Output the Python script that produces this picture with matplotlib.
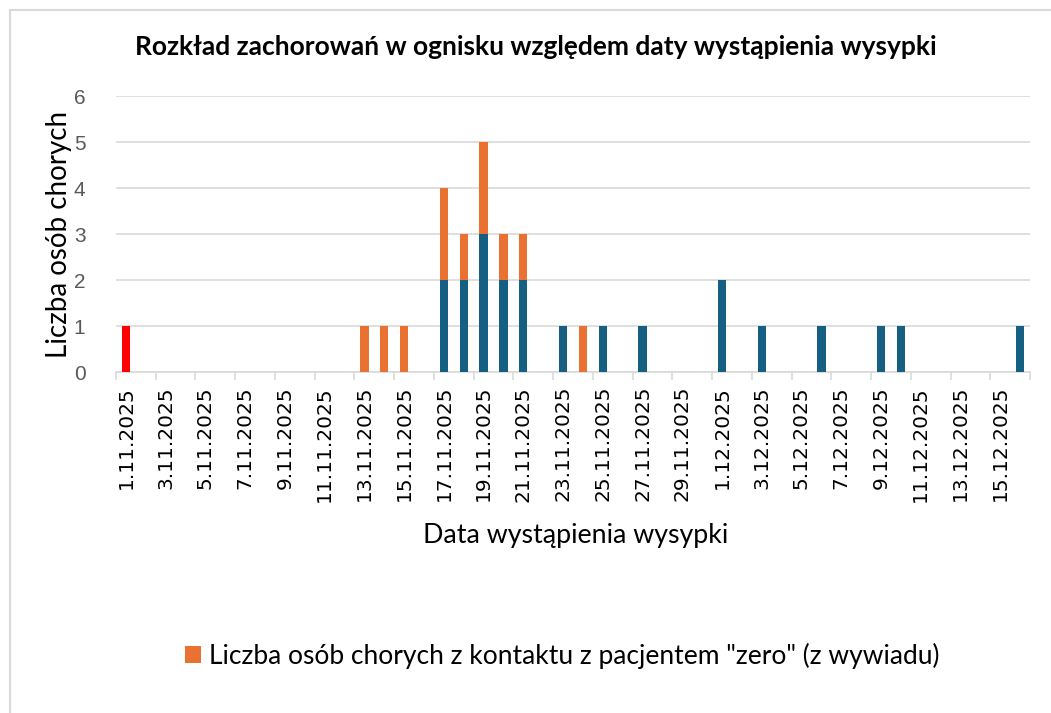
import matplotlib
matplotlib.use("Agg")
import matplotlib.pyplot as plt
import numpy as np
from matplotlib.patches import Rectangle

dates = [f"{d}.11.2025" for d in range(1, 31)] + [f"{d}.12.2025" for d in range(1, 17)]

# patient zero (shown in red), own-data cases (blue), contact cases from interview (orange)
zero = [1] + [0] * 45
blue = [0] * 46
orange = [0] * 46

blue_vals = {"17.11.2025": 2, "18.11.2025": 2, "19.11.2025": 3, "20.11.2025": 2, "21.11.2025": 2,
             "23.11.2025": 1, "25.11.2025": 1, "27.11.2025": 1, "1.12.2025": 2, "3.12.2025": 1,
             "6.12.2025": 1, "9.12.2025": 1, "10.12.2025": 1, "16.12.2025": 1}
orange_vals = {"13.11.2025": 1, "14.11.2025": 1, "15.11.2025": 1, "17.11.2025": 2, "18.11.2025": 1,
               "19.11.2025": 2, "20.11.2025": 1, "21.11.2025": 1, "24.11.2025": 1}
for k, v in blue_vals.items():
    blue[dates.index(k)] = v
for k, v in orange_vals.items():
    orange[dates.index(k)] = v

plt.rcParams['font.family'] = ['Lato', 'DejaVu Sans']

fig = plt.figure(figsize=(10.51, 7.13), dpi=100)
ax = fig.add_axes([116 / 1051, 1 - 372 / 713, (1030 - 116) / 1051, (372 - 96) / 713])

x = np.arange(len(dates))
w = 0.42
base = np.array(zero) + np.array(blue)
ax.bar(x, zero, width=w, color="#FF0000", zorder=3)
ax.bar(x, blue, width=w, bottom=zero, color="#156082", zorder=3)
ax.bar(x, orange, width=w, bottom=base, color="#E97132", zorder=3,
       label='Liczba osób chorych z kontaktu z pacjentem "zero" (z wywiadu)')

ax.set_xlim(-0.5, len(dates) - 0.5)
ax.set_ylim(0, 6)
ax.set_yticks(range(7))
ax.set_yticklabels([str(v) for v in range(7)], fontsize=15, color="#595959",
                   family=['Liberation Sans', 'DejaVu Sans'])
ax.yaxis.grid(True, color="#d9d9d9", linewidth=1.2, zorder=0)
for s in ["top", "right", "left"]:
    ax.spines[s].set_visible(False)
ax.spines["bottom"].set_color("#d9d9d9")
ax.spines["bottom"].set_linewidth(1.2)
ax.tick_params(axis="y", length=0, pad=22)

ax.set_xticks(x[::2])
ax.set_xticklabels(dates[::2], rotation=90, fontsize=14.5, family=['DejaVu Sans'])
ax.set_xticks(np.arange(-0.5, len(dates), 2), minor=True)
ax.tick_params(axis="x", which="major", length=0, pad=10)
ax.tick_params(axis="x", which="minor", length=6, color="#d9d9d9", width=1.2)

ax.set_ylabel("Liczba osób chorych", fontsize=20)
ax.yaxis.set_label_coords(-0.048, 0.5)
fig.text(576 / 1051, 1 - 536 / 713, "Data wystąpienia wysypki", ha="center", va="center", fontsize=19.3)
fig.text(536 / 1051, 1 - 47 / 713, "Rozkład zachorowań w ognisku względem daty wystąpienia wysypki",
         ha="center", va="center", fontsize=19, fontweight="bold")

fig.legend(loc="center", bbox_to_anchor=(562 / 1051, 1 - 656 / 713), frameon=False,
           fontsize=19, handlelength=0.6, handleheight=0.6, handletextpad=0.3)

fig.patches.append(Rectangle((10 / 1051, -0.01), 1.02, 1 - 10 / 713 + 0.01, transform=fig.transFigure,
                             fill=False, edgecolor="#d9d9d9", linewidth=1.5))

fig.savefig("out.png", dpi=100)
